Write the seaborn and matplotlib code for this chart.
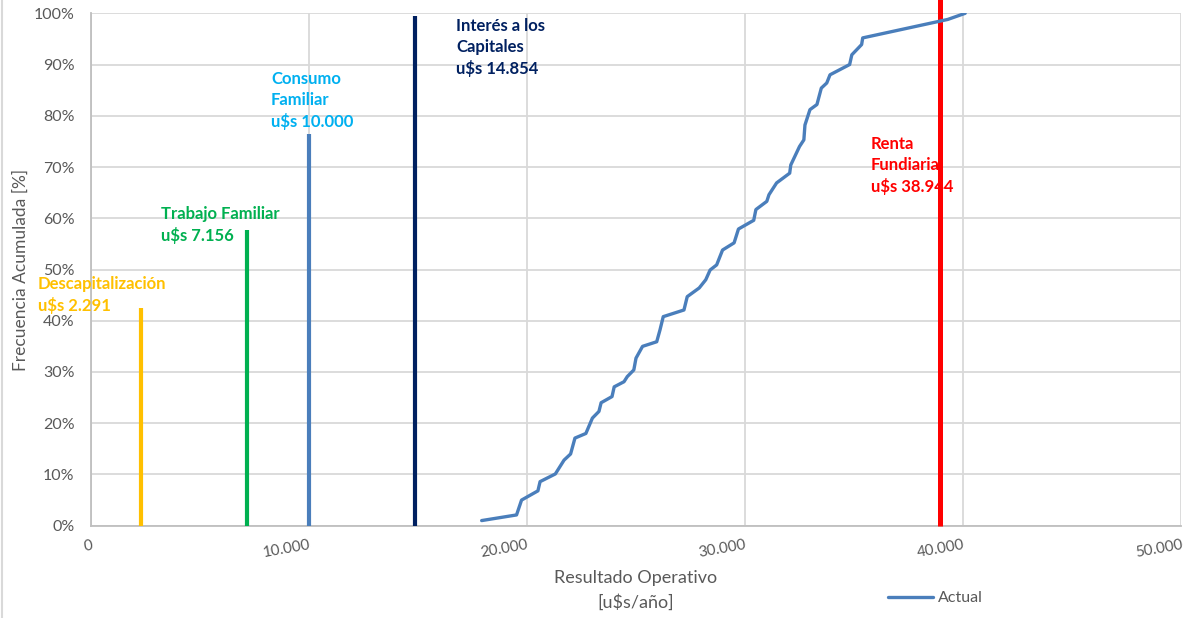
import matplotlib
matplotlib.use("Agg")
import matplotlib.pyplot as plt
import matplotlib.ticker as mticker
from matplotlib.lines import Line2D
import numpy as np
import pandas as pd
import seaborn as sns

# Cumulative distribution of the operating result (u$s/año, % accumulated)
resultado = [17920, 19520, 19750, 20500, 20600, 21300, 21700, 22000, 22200, 22700,
             23000, 23300, 23400, 23900, 24000, 24450, 24600, 24900, 25000, 25300,
             25950, 26100, 26250, 27200, 27350, 27900, 28200, 28400, 28700, 28970,
             29500, 29700, 30400, 30500, 31000, 31100, 31450, 32050, 32100, 32500,
             32700, 32750, 32980, 33300, 33400, 33500, 33750, 33900, 34800, 34900,
             35350, 35400, 39300, 40100]
frecuencia = [1.0, 2.1, 5.0, 6.8, 8.6, 10.1, 12.8, 14.0, 17.1, 18.0,
              21.0, 22.3, 24.0, 25.2, 27.1, 28.1, 29.1, 30.4, 32.7, 35.0,
              35.9, 38.2, 40.8, 42.1, 44.7, 46.4, 48.0, 49.9, 50.9, 53.8,
              55.2, 57.9, 59.6, 61.7, 63.3, 64.6, 66.9, 68.8, 70.4, 74.0,
              75.3, 78.2, 81.2, 82.2, 83.8, 85.4, 86.4, 88.0, 90.0, 91.9,
              93.9, 95.2, 98.8, 100.0]

# Reference thresholds
umbral_nombres = ["Descapitalización", "Trabajo Familiar", "Consumo\nFamiliar",
                  "Interés a los\nCapitales", "Renta\nFundiaria"]
umbral_valores = [2291, 7156, 10000, 14854, 38944]
umbral_alturas = [42.5, 57.7, 76.5, 99.5, 102.7]
umbral_colores = ["#FFC000", "#00B050", "#4A7EBB", "#002060", "#FF0000"]
umbral_texto_colores = ["#FFC000", "#00B050", "#00B0F0", "#002060", "#FF0000"]

x_ticks = [0, 10000, 20000, 30000, 40000, 50000]
y_ticks = list(range(0, 101, 10))

sns.set_style("white")
plt.rcParams["font.family"] = ["Lato", "DejaVu Sans"]

W, H = 1183, 618
fig = plt.figure(figsize=(W / 100, H / 100), dpi=100)
ax = fig.add_axes([91 / W, 1 - 525.7 / H, (1181 - 91) / W, (525.7 - 13.3) / H])

grid_c = "#D9D9D9"
text_c = "#595959"

df = pd.DataFrame({"Resultado": resultado, "Frecuencia": frecuencia})
sns.lineplot(data=df, x="Resultado", y="Frecuencia", ax=ax, color="#4A7EBB",
             lw=2.4, sort=False, estimator=None, label="Actual", zorder=4,
             solid_capstyle="round", solid_joinstyle="round")

widths = [3.0, 3.0, 3.0, 3.0, 3.6]
for v, h, c, w in zip(umbral_valores, umbral_alturas, umbral_colores, widths):
    ax.vlines(v, 0, h, colors=c, lw=w, zorder=3, clip_on=(h <= 100))

ax.set_xlim(0, 50000)
ax.set_ylim(0, 100)
ax.set_xticks(x_ticks)
ax.set_yticks(y_ticks)
ax.xaxis.set_major_formatter(mticker.FuncFormatter(lambda v, p: f"{int(v):,}".replace(",", ".")))
ax.yaxis.set_major_formatter(mticker.FuncFormatter(lambda v, p: f"{int(v)}%"))
ax.grid(True, color=grid_c, lw=1.3)
ax.set_axisbelow(True)
for s in ["top", "right"]:
    ax.spines[s].set_visible(False)
for s in ["left", "bottom"]:
    ax.spines[s].set_color("#BFBFBF")
    ax.spines[s].set_linewidth(1.3)

ax.tick_params(axis="y", length=0, pad=12, labelsize=11.5, labelcolor=text_c)
ax.tick_params(axis="x", length=0, pad=9, labelsize=11, labelcolor=text_c)
for lab in ax.get_xticklabels():
    lab.set_rotation(10)
    lab.set_ha("right")
    lab.set_va("top")
    lab.set_rotation_mode("anchor")

ax.set_xlabel("Resultado Operativo\n[u$s/año]", fontsize=13, color=text_c, linespacing=1.6)
ax.set_ylabel("Frecuencia Acumulada [%]", fontsize=12.5, color=text_c)
ax.xaxis.set_label_coords(0.5, -0.086)
ax.yaxis.set_label_coords(-0.057, 0.5)
ax.get_legend().remove()

# Threshold annotations
label_pos = [(38, 276), (161, 206), (271, 71), (456, 18), (871, 136)]
for name, val, c, (px, py) in zip(umbral_nombres, umbral_valores, umbral_texto_colores, label_pos):
    txt = f"{name}\nu$s {val:,}".replace(",", ".")
    fig.text(px / W, 1 - py / H, txt, color=c, fontsize=12, fontweight="bold",
             ha="left", va="top", linespacing=1.38, zorder=6)

handles = [Line2D([0], [0], color="#4A7EBB", lw=2.4)]
fig.legend(handles, ["Actual"], loc="center left", bbox_to_anchor=(882 / W, 1 - 598 / H),
           frameon=False, fontsize=11.5, labelcolor=text_c, handlelength=2.8,
           handletextpad=0.3, borderaxespad=0)

fig.add_artist(Line2D([1.5 / W, 1.5 / W], [0, 1], color=grid_c, lw=1.5))

fig.savefig("out.png", dpi=100)
